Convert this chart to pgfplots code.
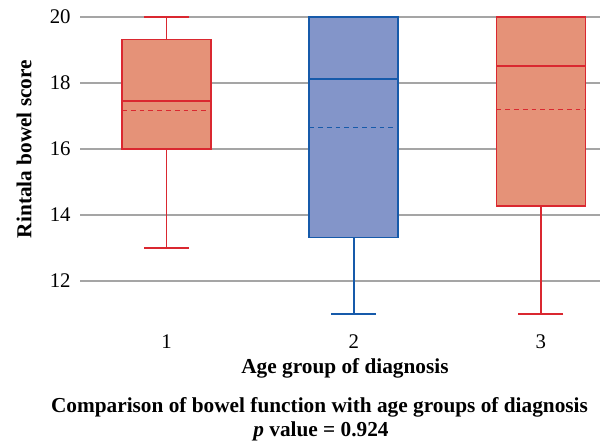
\documentclass[border=0pt]{standalone}
\usepackage{fontspec}
\setmainfont{Liberation Serif}
\usepackage{pgfplots}
\pgfplotsset{compat=1.18}
\usepgfplotslibrary{statistics}
\definecolor{ofill}{RGB}{229,146,120}
\definecolor{rline}{RGB}{218,40,48}
\definecolor{bfill}{RGB}{131,149,201}
\definecolor{bline}{RGB}{22,90,170}
\definecolor{gridc}{RGB}{165,165,165}
\begin{document}
\begin{tikzpicture}
\path[use as bounding box] (0,0) rectangle (300pt,223pt);
\begin{axis}[
  at={(40pt,62pt)}, anchor=south west,
  scale only axis, width=260pt, height=152.5pt,
  xmin=0.5374, xmax=3.3155, ymin=10.758, ymax=20,
  xtick={1,2,3}, ytick={12,14,16,18,20},
  ymajorgrids, grid style={gridc, line width=0.75pt},
  axis line style={draw=none}, major tick length=0pt,
  clip=false,
  tick label style={font=\fontsize{10.4}{12}\selectfont},
  /pgf/number format/assume math mode=true,
  yticklabel style={inner sep=0pt, xshift=-4.5pt},
  xticklabel style={inner sep=0pt, yshift=-6.3pt},
  boxplot/draw direction=y,
  boxplot/box extend=0.476,
  boxplot/whisker extend=0.24,
  boxplot/every median/.style={line width=1.2pt},
  boxplot/draw/average/.code={\draw[line width=0.75pt, dash pattern=on 2.4pt off 2pt] (boxplot box cs:\pgfplotsboxplotvalue{average},0) -- (boxplot box cs:\pgfplotsboxplotvalue{average},1);},
]
\addplot[boxplot prepared={draw position=1, lower whisker=13, lower quartile=16, median=17.46, upper quartile=19.32, upper whisker=20, average=17.17}, draw=rline, fill=ofill, line width=0.85pt] coordinates {};
\addplot[boxplot prepared={draw position=2, lower whisker=11, lower quartile=13.32, median=18.13, upper quartile=20, upper whisker=20, average=16.65}, draw=bline, fill=bfill, line width=0.85pt] coordinates {};
\addplot[boxplot prepared={draw position=3, lower whisker=11, lower quartile=14.27, median=18.51, upper quartile=20, upper whisker=20, average=17.19}, draw=rline, fill=ofill, line width=0.85pt] coordinates {};
\end{axis}
\node[font=\bfseries\fontsize{10.65}{12}\selectfont, anchor=base] at (172.5pt,36.5pt) {Age group of diagnosis};
\node[font=\bfseries\fontsize{10.65}{12}\selectfont, anchor=base] at (159.75pt,17pt) {Comparison of bowel function with age groups of diagnosis};
\node[font=\bfseries\fontsize{10.65}{12}\selectfont, anchor=base] at (160.5pt,4.65pt) {\textit{p} value = 0.924};
\node[font=\bfseries\fontsize{10.65}{12}\selectfont, rotate=90] at (12pt,148.5pt) {Rintala bowel score};
\end{tikzpicture}
\end{document}
